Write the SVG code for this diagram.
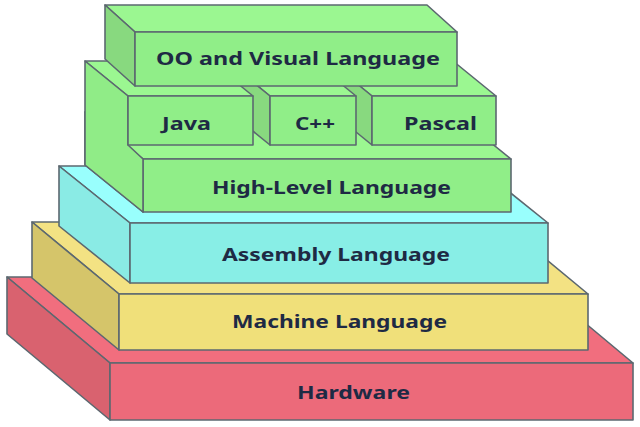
<svg xmlns="http://www.w3.org/2000/svg" width="640" height="427" viewBox="0 0 640 427">
<style>
  .e { stroke: #5c6870; stroke-width: 1.6; stroke-linejoin: round; }
  .rf { fill: #ec6a7a; } .rt { fill: #f16e7e; } .rs { fill: #d9626f; }
  .yf { fill: #f0e07a; } .yt { fill: #f3e283; } .ys { fill: #d5c56a; }
  .cf { fill: #88eee6; } .ct { fill: #99fffd; } .cs { fill: #8aebe5; }
  .gf { fill: #90ee88; } .gt { fill: #9bf791; } .gs { fill: #88d97f; } .gl { fill: #90ec87; }
  text { font-family: "Noto Sans", "Open Sans", "DejaVu Sans", sans-serif; font-weight: 700; font-size: 17px; fill: #1e2a44; }
</style>
<rect width="640" height="427" fill="#ffffff"/>

<g id="hardware">
  <polygon class="rt e" points="110,363 7,277 530,277 633,363"/>
  <polygon class="rs e" points="110,363 7,277 7,334 110,420"/>
  <rect class="rf e" x="110" y="363" width="523" height="57"/>
  <text x="297" y="399" textLength="113" lengthAdjust="spacingAndGlyphs">Hardware</text>
</g>

<g id="machine">
  <polygon class="yt e" points="119,294 32,222 501,222 588,294"/>
  <polygon class="ys e" points="119,294 32,222 32,278 119,350"/>
  <rect class="yf e" x="119" y="294" width="469" height="56"/>
  <text x="232" y="328" textLength="215" lengthAdjust="spacingAndGlyphs">Machine Language</text>
</g>

<g id="assembly">
  <polygon class="ct e" points="130,223 59,166 477,166 548,223"/>
  <polygon class="cs e" points="130,223 59,166 59,226 130,283"/>
  <rect class="cf e" x="130" y="223" width="418" height="60"/>
  <text x="222" y="261" textLength="228" lengthAdjust="spacingAndGlyphs">Assembly Language</text>
</g>

<g id="high-level">
  <polygon class="gt e" points="143,159 85,112 453,112 511,159"/>
  <polygon class="gl e" points="143,159 85,112 85,165 143,212"/>
  <rect class="gf e" x="143" y="159" width="368" height="53"/>
  <text x="212" y="194" textLength="239" lengthAdjust="spacingAndGlyphs">High-Level Language</text>
</g>

<g id="pascal">
  <polygon class="gt e" points="372,96 329,61 453,61 496,96"/>
  <polygon class="gs e" points="372,96 329,61 329,110 372,145"/>
  <rect class="gf e" x="372" y="96" width="124" height="49"/>
  <text x="404" y="130" textLength="73" lengthAdjust="spacingAndGlyphs">Pascal</text>
</g>

<g id="cpp">
  <polygon class="gt e" points="270,96 227,61 313,61 356,96"/>
  <polygon class="gs e" points="270,96 227,61 227,110 270,145"/>
  <rect class="gf e" x="270" y="96" width="86" height="49"/>
  <text x="295" y="130" textLength="40" lengthAdjust="spacingAndGlyphs">C++</text>
</g>

<g id="java">
  <polygon class="gt e" points="128,96 85,61 210,61 253,96"/>
  <polygon class="gl e" points="128,96 85,61 85,165 143,212 143,159 128,145"/>
  <rect class="gf e" x="128" y="96" width="125" height="49"/>
  <text x="162" y="130" textLength="49" lengthAdjust="spacingAndGlyphs">Java</text>
</g>

<g id="oo-visual">
  <polygon class="gt e" points="135,32 105,5 427,5 457,32"/>
  <polygon class="gs e" points="135,32 105,5 105,59 135,86"/>
  <rect class="gf e" x="135" y="32" width="322" height="54"/>
  <text x="156" y="65" textLength="284" lengthAdjust="spacingAndGlyphs">OO and Visual Language</text>
</g>

<g id="connectors"></g>
</svg>
